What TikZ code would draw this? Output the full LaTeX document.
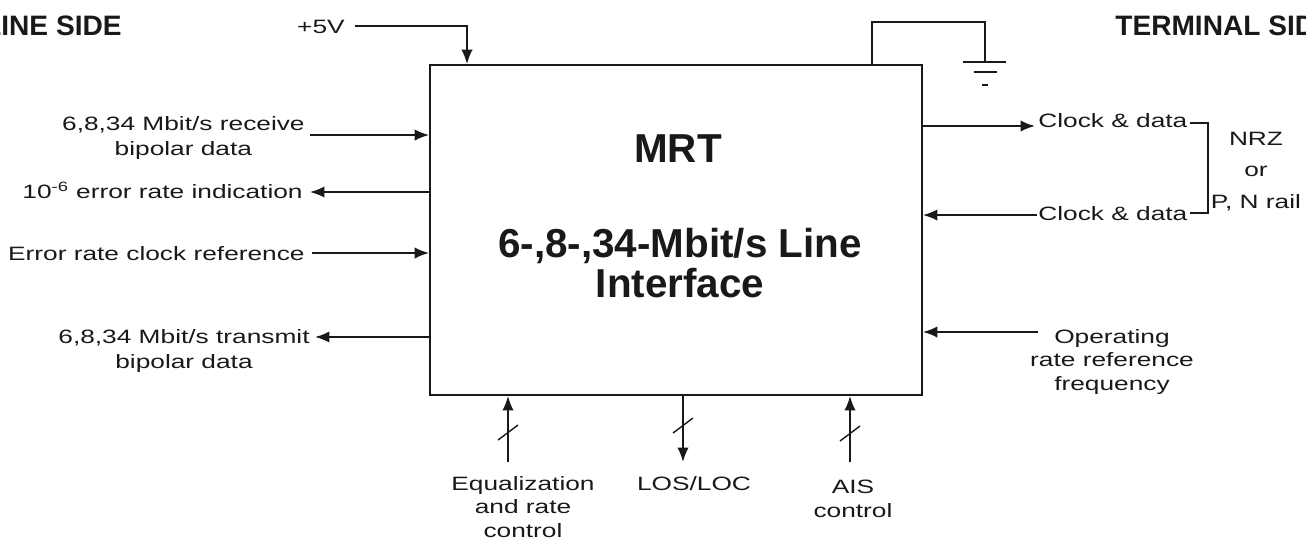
\documentclass[tikz,border=0pt]{standalone}
\usepackage{fontspec}
\setmainfont{Liberation Sans}
\newfontfamily\lblfont{Liberation Sans}[FakeStretch=1.36]
\usetikzlibrary{arrows.meta,calc}
\definecolor{inkBlack}{RGB}{25,25,25}
\tikzset{
  mrtbox/.style={draw=inkBlack, line width=1.1pt, minimum width=9.84cm, minimum height=6.6cm, inner sep=0pt},
  title/.style={font=\bfseries\fontsize{23}{22.7}\selectfont, text=inkBlack, align=center, inner sep=0pt},
  side/.style={font=\bfseries\fontsize{16}{18}\selectfont, text=inkBlack, inner sep=0pt},
  lbl/.style={font=\lblfont\fontsize{11}{14.2}\selectfont, text=inkBlack, align=center, inner sep=0pt},
  lbltall/.style={lbl, font=\lblfont\fontsize{11}{17.9}\selectfont},
  lblmid/.style={lbl, font=\lblfont\fontsize{11}{13.3}\selectfont},
  sig/.style={-{Latex[length=2.9mm,width=2.3mm]}, line width=1.1pt, draw=inkBlack},
  wire/.style={line width=1.1pt, draw=inkBlack},
  bus/.style={line width=0.8pt, draw=inkBlack}
}

\begin{document}
\begin{tikzpicture}[x=0.02cm, y=-0.02cm]
  \useasboundingbox (0,0) rectangle (1306,539);

  % main block
  \node[mrtbox] (mrt) at (676,230) {};
  \node[title, anchor=base] (name) at (678,162) {MRT};
  \node[title, anchor=base] (func) at (680,297) {6-,8-,34-Mbit/s Line\\Interface};

  \node[side, anchor=base east] (lside) at (122,35) {LINE SIDE};
  \node[side, anchor=base west] (tside) at (1115,35) {TERMINAL SIDE};

  % supply and ground
  \node[lbl, anchor=base east] (vcc) at (345,33) {+5V};
  \coordinate (vccin) at (467,0);
  \draw[sig] ($(vcc.east)+(10,0)$) -| (vccin |- mrt.north);
  \coordinate (gndtap) at (872,0);
  \coordinate (gndtop) at (985,22);
  \coordinate (gnd) at (985,62);
  \draw[wire] (gndtap |- mrt.north) |- (gndtop) -- (gnd);
  \draw[wire] ($(gnd)+(-22,0)$) -- ($(gnd)+(21,0)$);
  \draw[wire] ($(gnd)+(-11,10)$) -- ($(gnd)+(12,10)$);
  \draw[wire] ($(gnd)+(-3,23)$) -- ($(gnd)+(3,23)$);

  % line side
  \node[lbl, anchor=base east] (rxdata) at (305,155) {6,8,34 Mbit/s receive\\bipolar data};
  \coordinate (rxin) at (310,135);
  \draw[sig] (rxin) -- (rxin -| mrt.west);
  \node[lbl, anchor=base east] (errind) at (303,198) {10\textsuperscript{-6} error rate indication};
  \coordinate (errout) at (310,192);
  \draw[sig] (errout -| mrt.west) -- (errout);
  \node[lbl, anchor=base east] (errclk) at (305,260) {Error rate clock reference};
  \coordinate (clkin) at (312,253);
  \draw[sig] (clkin) -- (clkin -| mrt.west);
  \node[lbl, anchor=base east] (txdata) at (310,368) {6,8,34 Mbit/s transmit\\bipolar data};
  \coordinate (txout) at (315,337);
  \draw[sig] (txout -| mrt.west) -- (txout);

  % terminal side
  \node[lbl, anchor=base west] (tdata) at (1038,127) {Clock \& data};
  \coordinate (tdout) at (1035,126);
  \draw[sig] (tdout -| mrt.east) -- (tdout);
  \node[lbl, anchor=base west] (rdata) at (1038,220) {Clock \& data};
  \coordinate (tdin) at (1037,215);
  \draw[sig] (tdin) -- (tdin -| mrt.east);
  \coordinate (brtop) at (1208,123);
  \coordinate (brbot) at (1208,213);
  \draw[wire] ($(brtop)+(-18,0)$) -- (brtop) -- (brbot) -- ++(-18,0);
  \node[lbltall, anchor=base] (fmt) at (1256,208) {NRZ\\or\\P, N rail};
  \node[lblmid, anchor=base] (oprate) at (1112,390) {Operating\\rate reference\\frequency};
  \coordinate (opin) at (1038,332);
  \draw[sig] (opin) -- (opin -| mrt.east);

  % control lines
  \coordinate (eqin) at (508,462);
  \draw[sig] (eqin) -- (eqin |- mrt.south);
  \node[lblmid, anchor=base] (eqctl) at (523,537) {Equalization\\and rate\\control};
  \coordinate (losout) at (683,462);
  \draw[sig] (losout |- mrt.south) -- (losout);
  \node[lbl, anchor=base] (los) at (694,490) {LOS/LOC};
  \coordinate (aisin) at (850,462);
  \draw[sig] (aisin) -- (aisin |- mrt.south);
  \node[lblmid, anchor=base] (ais) at (853,517) {AIS\\control};
  \foreach \c/\dy in {eqin/-29, losout/-36, aisin/-28}
    \draw[bus] ($(\c)+(-10,\dy+7)$) -- ++(20,-15);
\end{tikzpicture}
\end{document}
